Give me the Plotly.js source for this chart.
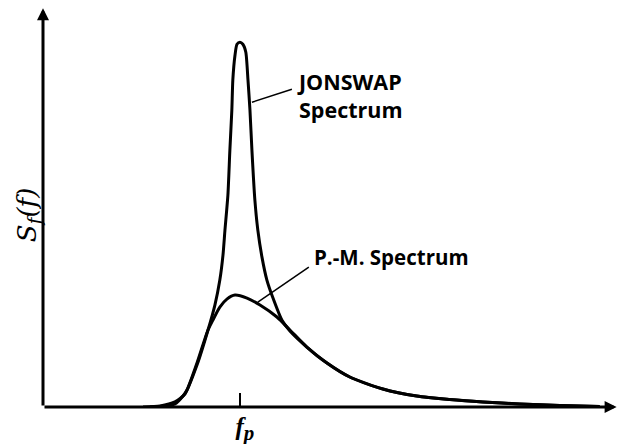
<!DOCTYPE html>
<html>
<head>
<meta charset="utf-8">
<script src="https://cdn.plot.ly/plotly-3.0.1.min.js"></script>
<style>html,body{margin:0;padding:0;background:#fff;}#chart{width:619px;height:444px;}</style>
</head>
<body>
<div id="chart"></div>
<script>
// Frequency (f / fp) and spectral density (relative to P.-M. peak)
const pmFreq = [0.543,0.619,0.670,0.711,0.731,0.782,0.838,0.863,0.898,0.934,0.975,1.036,1.102,1.188,1.254,1.340,1.442,1.558,1.726,1.898,2.066,2.234,2.421,2.624,2.827];
const pmS    = [0,0.009,0.027,0.098,0.152,0.393,0.688,0.777,0.893,0.964,1.0,0.973,0.911,0.804,0.688,0.536,0.393,0.268,0.161,0.098,0.067,0.045,0.027,0.013,0.004];

const jsFreq = [0.508,0.594,0.670,0.721,0.782,0.838,0.873,0.898,0.914,0.924,0.939,0.949,0.959,0.964,0.975,0.985,1.0,1.015,1.030,1.041,1.051,1.061,1.076,1.091,1.112,1.137,1.168,1.213,1.254,1.340,1.442,1.558,1.726,1.898,2.066,2.234,2.421,2.624,2.827];
const jsS    = [0,0.009,0.045,0.116,0.375,0.688,0.911,1.134,1.357,1.580,1.893,2.295,2.652,2.920,3.143,3.241,3.259,3.241,3.170,2.920,2.652,2.295,1.848,1.580,1.339,1.134,0.973,0.777,0.679,0.536,0.393,0.268,0.161,0.098,0.067,0.045,0.027,0.013,0.004];

const peakFreq = [1];
const tickLabels = ['<b><i>f</i></b><sub><span style="font-size:21px"><b><i>p</i></b></span></sub>'];
const yLabel = '<i>S<sub>f</sub>(f)</i>';
const jsLabel = '<b>JONSWAP<br>Spectrum</b>';
const pmLabel = '<b>P.-M. Spectrum</b>';

const XMAX = 2.915, YMAX = 3.565;

const traces = [
  {x: pmFreq, y: pmS, mode: 'lines', line: {color: '#000', width: 3, shape: 'spline', smoothing: 0.8}, cliponaxis: false, hoverinfo: 'skip'},
  {x: jsFreq, y: jsS, mode: 'lines', line: {color: '#000', width: 3, shape: 'spline', smoothing: 0.6}, cliponaxis: false, hoverinfo: 'skip'}
];

const layout = {
  width: 619, height: 444,
  margin: {l: 43, r: 2, t: 8, b: 37},
  paper_bgcolor: '#fff', plot_bgcolor: '#fff',
  showlegend: false,
  xaxis: {range: [0, XMAX], showgrid: false, zeroline: false, showline: false,
    tickmode: 'array', tickvals: peakFreq, ticktext: tickLabels,
    ticks: 'inside', ticklen: 14, tickwidth: 1.5, tickcolor: '#000',
    ticklabelshift: 5, ticklabelstandoff: 2,
    tickfont: {family: 'Liberation Serif', size: 25, color: '#000'}},
  yaxis: {range: [0, YMAX], showgrid: false, zeroline: false, showline: false, showticklabels: false, ticks: ''},
  shapes: [
    {type: 'line', xref: 'x', yref: 'y', x0: 1.061, y0: 2.723, x1: 1.264, y1: 2.839, line: {color: '#000', width: 1.5}},
    {type: 'line', xref: 'x', yref: 'y', x0: 1.091, y0: 0.9375, x1: 1.350, y1: 1.25, line: {color: '#000', width: 1.5}}
  ],
  annotations: [
    {x: XMAX - 0.002, y: 0, ax: 0, ay: 0, xref: 'x', yref: 'y', axref: 'x', ayref: 'y', text: '', showarrow: true, arrowhead: 2, arrowsize: 0.8, arrowwidth: 3, arrowcolor: '#000'},
    {x: 0, y: YMAX - 0.003, ax: 0, ay: 0, xref: 'x', yref: 'y', axref: 'x', ayref: 'y', text: '', showarrow: true, arrowhead: 2, arrowsize: 0.8, arrowwidth: 3, arrowcolor: '#000'},
    {x: 1.279, y: 2.786, xref: 'x', yref: 'y', xanchor: 'left', yanchor: 'middle', align: 'left', showarrow: false, text: jsLabel,
      font: {family: 'Open Sans', size: 21.5, color: '#000'}},
    {x: 1.3655, y: 1.339, xref: 'x', yref: 'y', xanchor: 'left', yanchor: 'middle', align: 'left', showarrow: false, text: pmLabel,
      font: {family: 'Open Sans', size: 20.5, color: '#000'}},
    {x: -0.026, y: 0.481, xref: 'paper', yref: 'paper', xanchor: 'center', yanchor: 'middle', textangle: -90, showarrow: false, text: yLabel,
      font: {family: 'DejaVu Serif', size: 26, color: '#000'}}
  ]
};

Plotly.newPlot('chart', traces, layout, {staticPlot: true, displayModeBar: false});
</script>
</body>
</html>
